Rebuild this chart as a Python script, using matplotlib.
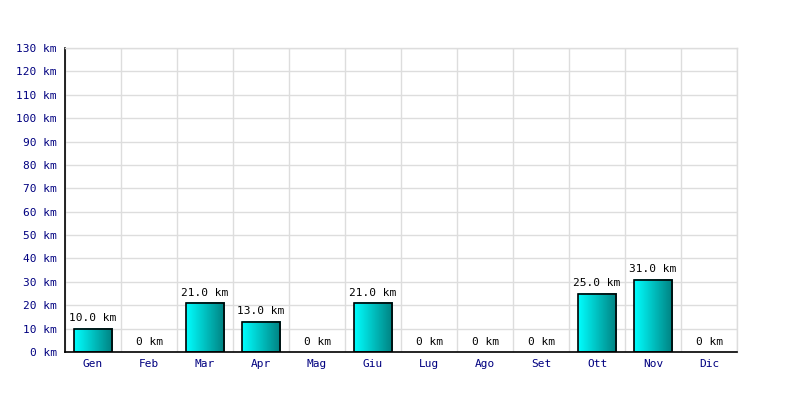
import numpy as np
import matplotlib
matplotlib.use("Agg")
import matplotlib.pyplot as plt
from matplotlib.colors import LinearSegmentedColormap

months = ["Gen", "Feb", "Mar", "Apr", "Mag", "Giu", "Lug", "Ago", "Set", "Ott", "Nov", "Dic"]
values = [10.0, 0, 21.0, 13.0, 0, 21.0, 0, 0, 0, 25.0, 31.0, 0]
yticks = list(range(0, 131, 10))

plt.rcParams['font.family'] = ['DejaVu Sans Mono']

fig = plt.figure(figsize=(8, 4), dpi=100)
ax = fig.add_axes([65/800, 48/400, 672/800, 304/400])

x = np.arange(len(months))
bw = 0.68
cmap = LinearSegmentedColormap.from_list("g", ["#00ffff", "#008080"])
grad = np.linspace(0, 1, 256).reshape(1, -1)

for xi, v in zip(x, values):
    if v > 0:
        ax.imshow(grad, cmap=cmap, aspect='auto', extent=(xi - bw/2, xi + bw/2, 0, v),
                  zorder=2, interpolation='bilinear')
        ax.add_patch(plt.Rectangle((xi - bw/2, 0), bw, v, fill=False, edgecolor='black',
                                   linewidth=1.2, zorder=3))
        lab = f"{v:.1f} km"
    else:
        lab = "0 km"
    ax.text(xi, v + 2.3, lab, ha='center', va='bottom', fontsize=8, color='black', zorder=4)

ax.set_xlim(-0.5, len(months) - 0.5)
ax.set_ylim(0, 130)
ax.set_xticks(x)
ax.set_xticklabels(months)
ax.set_xticks(np.arange(-0.5, len(months), 1), minor=True)
ax.set_yticks(yticks)
ax.set_yticklabels([f"{t} km" for t in yticks])
ax.tick_params(axis='both', which='both', length=0, labelsize=8, labelcolor='#000080')
ax.tick_params(axis='y', pad=6)
ax.tick_params(axis='x', pad=5)
ax.grid(True, which='minor', axis='x', color='#dddddd', linewidth=1, zorder=0)
ax.grid(True, which='major', axis='y', color='#dddddd', linewidth=1, zorder=0)
ax.set_axisbelow(True)
for s in ['top', 'right']:
    ax.spines[s].set_color('#dddddd')
    ax.spines[s].set_linewidth(1)
ax.spines['left'].set_linewidth(1.2)
ax.spines['bottom'].set_linewidth(1.2)

fig.savefig("out.png", dpi=100)
